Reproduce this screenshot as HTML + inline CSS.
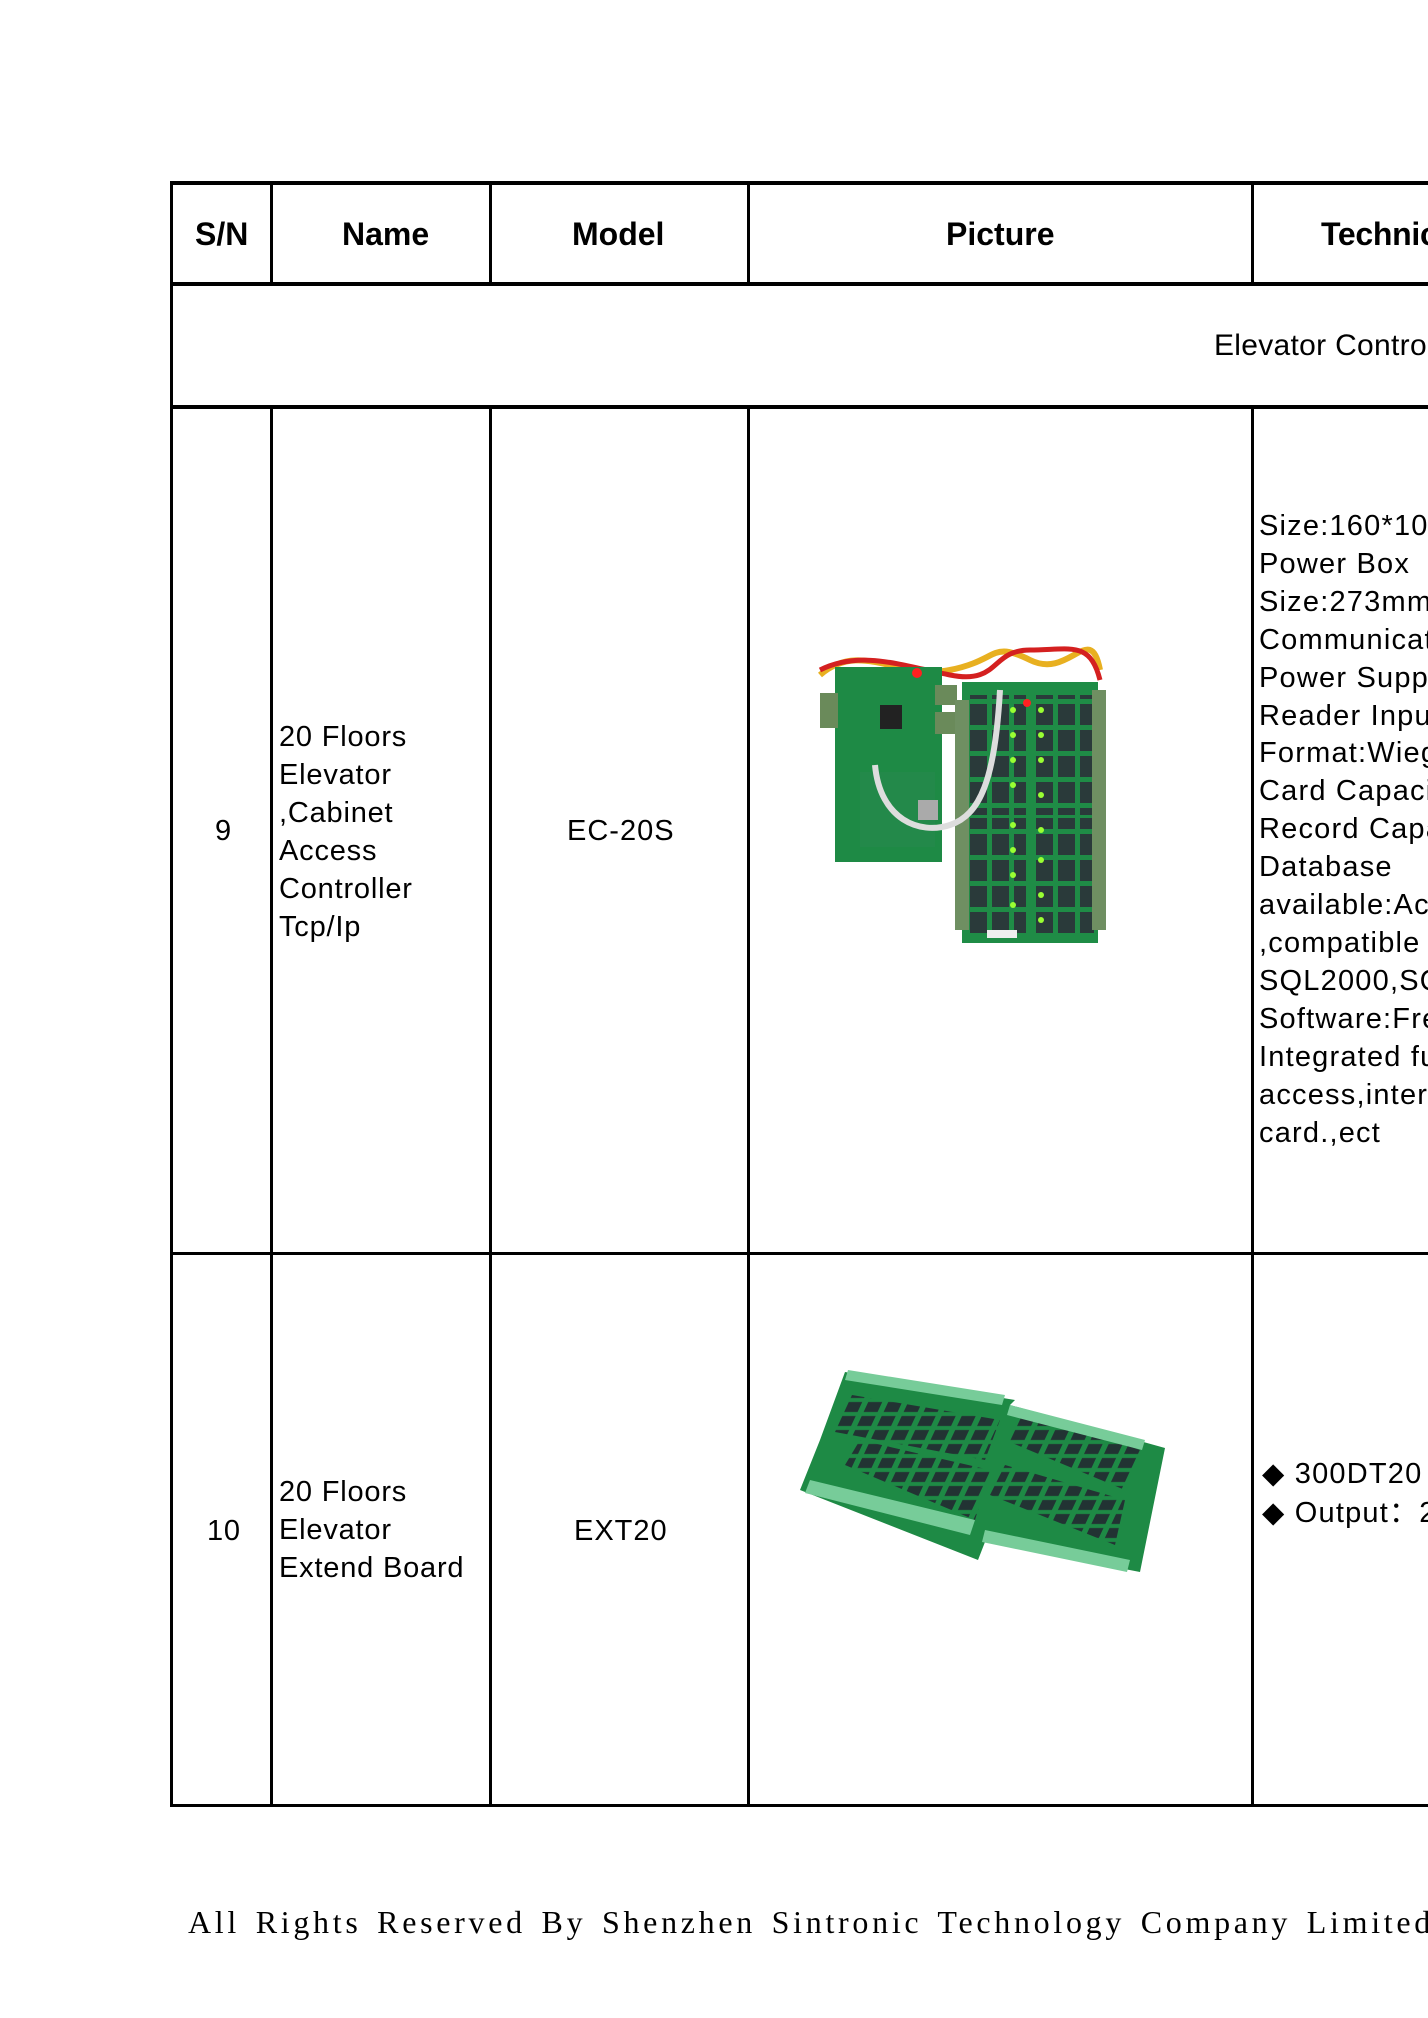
<!DOCTYPE html>
<html><head><style>
html,body{margin:0;padding:0}
body{width:1428px;height:2018px;overflow:hidden;background:#fff;font-family:"Liberation Sans",sans-serif;color:#000}
#w{position:relative;width:1428px;height:2018px;overflow:hidden}
.h,.v{position:absolute;background:#000}
.t{position:absolute;white-space:nowrap;font-size:29px;line-height:38px;letter-spacing:0.8px}
.b{font-weight:bold;font-size:32px;letter-spacing:0}
</style></head><body><div id="w">
<div class="h" style="left:170px;top:181px;width:1258px;height:4px"></div>
<div class="h" style="left:170px;top:282px;width:1258px;height:4px"></div>
<div class="h" style="left:170px;top:405px;width:1258px;height:4px"></div>
<div class="h" style="left:170px;top:1252px;width:1258px;height:3px"></div>
<div class="h" style="left:170px;top:1804px;width:1258px;height:3px"></div>
<div class="v" style="left:170px;top:181px;width:3px;height:1626px"></div>
<div class="v" style="left:270px;top:181px;width:3px;height:104px"></div>
<div class="v" style="left:489px;top:181px;width:3px;height:104px"></div>
<div class="v" style="left:747px;top:181px;width:3px;height:104px"></div>
<div class="v" style="left:1251px;top:181px;width:3px;height:104px"></div>
<div class="v" style="left:270px;top:405px;width:3px;height:1402px"></div>
<div class="v" style="left:489px;top:405px;width:3px;height:1402px"></div>
<div class="v" style="left:747px;top:405px;width:3px;height:1402px"></div>
<div class="v" style="left:1251px;top:405px;width:3px;height:1402px"></div>
<div class="t b" style="left:195px;top:215px">S/N</div>
<div class="t b" style="left:342px;top:215px">Name</div>
<div class="t b" style="left:572px;top:215px">Model</div>
<div class="t b" style="left:946px;top:215px">Picture</div>
<div class="t b" style="left:1321px;top:215px;letter-spacing:-0.3px">Technical</div>
<div class="t" style="left:1214px;top:327px;font-size:30px;letter-spacing:0.3px">Elevator Controller</div>
<div class="t" style="left:215px;top:812px">9</div>
<div class="t" style="left:279px;top:718px">20 Floors<br>Elevator<br>,Cabinet<br>Access<br>Controller<br>Tcp/Ip</div>
<div class="t" style="left:567px;top:812px;letter-spacing:1px">EC-20S</div>
<div class="t" style="left:1259px;top:508px;line-height:37.9px;letter-spacing:1.2px">Size:160*100mm<br>Power Box<br>Size:273mm*<br>Communication<br>Power Supply<br>Reader Input<br>Format:Wiegand<br>Card Capacity<br>Record Capacity<br>Database<br>available:Access<br>,compatible with<br>SQL2000,SQL<br>Software:Free<br>Integrated function<br>access,interlock<br>card.,ect</div>
<div class="t" style="left:207px;top:1512px">10</div>
<div class="t" style="left:279px;top:1473px">20 Floors<br>Elevator<br>Extend Board</div>
<div class="t" style="left:574px;top:1512px;letter-spacing:1px">EXT20</div>
<div class="t" style="left:1262px;top:1455px;line-height:39px;letter-spacing:1.2px">◆ 300DT20<br>◆ Output：20</div>
<svg style="position:absolute;left:0;top:0" width="1428" height="2018">
<defs>
<pattern id="rel" width="22" height="26" patternUnits="userSpaceOnUse"><rect x="2" y="2" width="17" height="21" fill="#2a3a3a"/></pattern>
<pattern id="rel2" width="20" height="14" patternUnits="userSpaceOnUse" patternTransform="skewX(-25)"><rect x="2" y="2" width="14" height="10" fill="#233"/></pattern>
</defs>
<path d="M820 675 C860 640 900 680 950 670 S990 640 1030 660 S1090 620 1100 670" stroke="#e8b020" stroke-width="6" fill="none"/>
<path d="M820 670 C860 650 900 665 950 675 S990 650 1030 650 S1090 640 1100 680" stroke="#d42020" stroke-width="5" fill="none"/>
<rect x="835" y="667" width="107" height="195" fill="#1e8a45"/>
<rect x="820" y="693" width="18" height="35" fill="#6a8a5a"/>
<rect x="935" y="685" width="22" height="20" fill="#6a8a5a"/>
<rect x="935" y="712" width="22" height="22" fill="#6a8a5a"/>
<rect x="880" y="705" width="22" height="24" fill="#222"/>
<rect x="860" y="772" width="75" height="75" fill="#23894a"/>
<rect x="918" y="800" width="20" height="20" fill="#aaa"/>
<circle cx="917" cy="673" r="5" fill="#ff2020"/>
<rect x="962" y="682" width="136" height="261" fill="#1f8c46"/>
<rect x="968" y="695" width="58" height="120" fill="url(#rel)"/>
<rect x="1036" y="695" width="58" height="120" fill="url(#rel)"/>
<rect x="968" y="818" width="58" height="118" fill="url(#rel)"/>
<rect x="1036" y="818" width="58" height="118" fill="url(#rel)"/>
<rect x="955" y="700" width="14" height="230" fill="#6f8f62"/>
<rect x="1092" y="690" width="14" height="240" fill="#6f8f62"/>
<g fill="#9f3"><circle cx="1013" cy="710" r="3"/><circle cx="1013" cy="735" r="3"/><circle cx="1013" cy="760" r="3"/><circle cx="1013" cy="785" r="3"/><circle cx="1013" cy="825" r="3"/><circle cx="1013" cy="850" r="3"/><circle cx="1013" cy="875" r="3"/><circle cx="1013" cy="905" r="3"/><circle cx="1041" cy="710" r="3"/><circle cx="1041" cy="735" r="3"/><circle cx="1041" cy="760" r="3"/><circle cx="1041" cy="795" r="3"/><circle cx="1041" cy="830" r="3"/><circle cx="1041" cy="860" r="3"/><circle cx="1041" cy="895" r="3"/><circle cx="1041" cy="920" r="3"/></g>
<circle cx="1027" cy="703" r="4" fill="#f22"/>
<path d="M875 765 C880 820 920 835 950 825 S995 780 1000 690" stroke="#ddd" stroke-width="6" fill="none"/>
<rect x="987" y="930" width="30" height="8" fill="#eee"/>
<polygon points="820,1440 845,1372 1015,1400 1010,1405 1165,1448 1140,1572 985,1542 978,1560 800,1490" fill="#1e8a45"/>
<polygon points="835,1432 852,1395 1000,1420 985,1460" fill="url(#rel2)"/>
<polygon points="845,1465 860,1440 990,1470 975,1520" fill="url(#rel2)"/>
<polygon points="1005,1440 1020,1410 1140,1450 1125,1490" fill="url(#rel2)"/>
<polygon points="990,1495 1005,1465 1125,1500 1115,1545" fill="url(#rel2)"/>
<polygon points="848,1370 1005,1395 1002,1405 845,1380" fill="#7c9"/>
<polygon points="1010,1405 1145,1440 1142,1450 1007,1415" fill="#7c9"/>
<polygon points="810,1480 975,1520 970,1535 805,1493" fill="#7c9"/>
<polygon points="985,1530 1130,1560 1127,1572 982,1542" fill="#7c9"/>
</svg>
<div class="t" style="left:188px;top:1900px;font-family:'Liberation Serif',serif;font-size:32px;line-height:44px;letter-spacing:3.7px;word-spacing:4px">All Rights Reserved By Shenzhen Sintronic Technology Company Limited</div>
</div></body></html>
